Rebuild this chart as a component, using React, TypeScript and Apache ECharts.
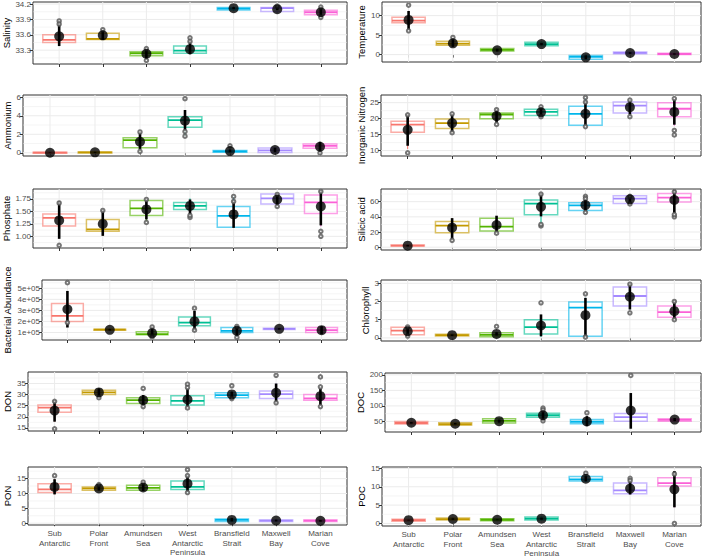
import React, { useEffect, useRef } from "react";
import * as echarts from "echarts";

const categories = ["Sub\nAntarctic", "Polar\nFront", "Amundsen\nSea", "West\nAntarctic\nPeninsula", "Bransfield\nStrait", "Maxwell\nBay", "Marian\nCove"];
const palette = ["#F8766D", "#C49A00", "#53B400", "#00C094", "#00B6EB", "#A58AFF", "#FB61D7"];

// box stats per region: [lower whisker, q1, median, q3, upper whisker]
const salinityBox = [[33.40, 33.45, 33.50, 33.60, 33.80], [33.50, 33.51, 33.52, 33.63, 33.68], [33.15, 33.19, 33.24, 33.27, 33.32], [33.22, 33.24, 33.29, 33.38, 33.48], [34.07, 34.085, 34.11, 34.135, 34.15], [34.03, 34.055, 34.12, 34.135, 34.16], [33.96, 33.99, 34.04, 34.08, 34.13]];
const salinityMean = [33.57, 33.59, 33.23, 33.32, 34.12, 34.10, 34.04];
const salinitySd = [[33.38, 33.86], [33.50, 33.70], [33.14, 33.33], [33.22, 33.48], [34.10, 34.14], [34.08, 34.13], [33.98, 34.11]];
const salinityOut = [[1, 33.87], [1, 33.81], [2, 33.70], [3, 33.33], [3, 33.10], [4, 33.54], [4, 33.47], [6, 34.16], [7, 34.14], [7, 33.94]];
const salinityTicks = [33.3, 33.6, 33.9, 34.2];

const temperatureBox = [[6.3, 8.2, 8.7, 9.6, 11.2], [2.0, 2.4, 2.8, 3.4, 4.0], [0.85, 0.9, 1.2, 1.55, 1.6], [2.2, 2.3, 2.7, 3.2, 3.3], [-1.3, -1.2, -0.6, -0.2, 0.0], [0.1, 0.2, 0.45, 0.65, 0.7], [-0.1, 0.0, 0.15, 0.35, 0.4]];
const temperatureMean = [8.9, 2.9, 1.1, 2.7, -0.7, 0.42, 0.15];
const temperatureSd = [[6.3, 11.2], [2.0, 4.0], [0.8, 1.5], [2.4, 3.0], [-1.2, -0.2], [0.2, 0.6], [0.0, 0.3]];
const temperatureOut = [[1, 12.7], [1, 6.1], [2, 4.4]];
const temperatureTicks = [0, 5, 10];

const ammoniumBox = [[0, 0, 0.02, 0.05, 0.08], [0, 0.01, 0.04, 0.08, 0.12], [0.1, 0.54, 1.37, 1.63, 2.2], [1.8, 2.75, 3.54, 3.9, 4.6], [0.04, 0.06, 0.15, 0.25, 0.4], [0, 0.02, 0.25, 0.52, 0.6], [0.1, 0.5, 0.75, 0.94, 1.1]];
const ammoniumMean = [0.0, 0.05, 1.19, 3.47, 0.18, 0.3, 0.65];
const ammoniumSd = [[-0.02, 0.03], [0.0, 0.1], [0.4, 2.17], [2.35, 4.63], [0.05, 0.35], [0.06, 0.54], [0.11, 1.19]];
const ammoniumOut = [[3, 2.25], [3, 0.15], [4, 5.85], [4, 1.8], [4, 2.3], [5, 0.75], [7, -0.02]];
const ammoniumTicks = [0, 2, 4, 6];

const nitrogenBox = [[10.5, 15.7, 18.1, 19.2, 21.3], [15.5, 16.9, 18.6, 19.9, 21.5], [19.5, 20.0, 21.3, 21.8, 22.8], [20.6, 21.0, 22.1, 22.9, 23.7], [17.5, 17.9, 21.5, 23.9, 26.5], [20.8, 21.8, 24.1, 25.2, 25.8], [17.8, 20.6, 23.1, 25.0, 26.3]];
const nitrogenMean = [16.5, 18.6, 20.8, 22.0, 21.5, 23.6, 22.1];
const nitrogenSd = [[11.5, 21.3], [15.7, 21.4], [18.7, 22.9], [20.8, 23.4], [17.6, 25.6], [21.3, 25.7], [18.1, 26.1]];
const nitrogenOut = [[1, 9.3], [1, 21.2], [2, 21.5], [2, 15.6], [3, 18.2], [3, 22.8], [4, 20.6], [4, 23.7], [5, 26.6], [5, 25.2], [5, 17.5], [6, 20.6], [6, 25.8], [7, 16.3], [7, 14.9], [7, 26.3]];
const nitrogenTicks = [10, 15, 20, 25];

const phosphateBox = [[0.96, 1.21, 1.37, 1.45, 1.67], [1.01, 1.10, 1.14, 1.34, 1.52], [1.30, 1.42, 1.56, 1.72, 1.74], [1.42, 1.54, 1.61, 1.68, 1.76], [1.17, 1.18, 1.41, 1.60, 1.80], [1.60, 1.65, 1.76, 1.85, 1.86], [1.20, 1.46, 1.68, 1.83, 1.90]];
const phosphateMean = [1.32, 1.25, 1.54, 1.61, 1.44, 1.74, 1.60];
const phosphateSd = [[0.95, 1.70], [1.01, 1.53], [1.34, 1.75], [1.44, 1.74], [1.17, 1.72], [1.62, 1.84], [1.22, 1.92]];
const phosphateOut = [[1, 0.82], [1, 1.67], [2, 1.52], [3, 1.28], [3, 1.74], [4, 1.38], [4, 1.42], [5, 1.80], [5, 1.70], [6, 1.84], [6, 1.60], [7, 1.10], [7, 1.00], [7, 1.90]];
const phosphateTicks = [1.0, 1.25, 1.5, 1.75];

const silicicBox = [[1, 1.5, 2, 3, 3.5], [9, 18.9, 28.4, 33.8, 38], [18.5, 21.2, 27, 38.3, 41], [28, 42.8, 57.3, 62.2, 70], [46, 48.3, 55, 58.6, 67], [56, 57.7, 64, 67.7, 69], [45, 59.5, 65.4, 70.8, 74]];
const silicicMean = [2, 25.7, 29.3, 53.2, 55.5, 63.1, 62.2];
const silicicSd = [[1, 3], [9.9, 38.3], [20.3, 41.5], [40.6, 71.3], [46.5, 68.6], [56.8, 69], [45.1, 75.8]];
const silicicOut = [[2, 9], [3, 18.5], [4, 28], [4, 30], [4, 70], [5, 67], [5, 64], [5, 46], [6, 57], [6, 67], [7, 40], [7, 43], [7, 73]];
const silicicTicks = [0, 20, 40, 60];

const bacteriaBox = [[160000, 199000, 250000, 362000, 470000], [115000, 120000, 125000, 130000, 135000], [60000, 79000, 85000, 106000, 150000], [121000, 160000, 190000, 241000, 295000], [60000, 100000, 115000, 145000, 160000], [124000, 126000, 133000, 139000, 141000], [85000, 100000, 121000, 145000, 157000]];
const bacteriaMean = [310000, 124000, 94000, 200000, 115000, 133000, 121000];
const bacteriaSd = [[145000, 476000], [118000, 130000], [60000, 150000], [121000, 295000], [70000, 160000], [126000, 139000], [85000, 157000]];
const bacteriaOut = [[1, 551000], [1, 190000], [3, 150000], [3, 60000], [4, 320000], [4, 121000], [5, 55000], [5, 155000]];
const bacteriaTicks = [100000, 200000, 300000, 400000, 500000];

const chlorophyllBox = [[0.1, 0.18, 0.40, 0.59, 0.64], [0.1, 0.11, 0.15, 0.2, 0.22], [0.05, 0.06, 0.17, 0.28, 0.3], [0.05, 0.22, 0.59, 1.0, 1.2], [0.04, 0.09, 1.66, 1.97, 2.2], [1.56, 1.75, 2.30, 2.80, 2.98], [1.0, 1.14, 1.42, 1.75, 2.06]];
const chlorophyllMean = [0.37, 0.15, 0.22, 0.68, 1.25, 2.26, 1.47];
const chlorophyllSd = [[0.15, 0.64], [0.11, 0.19], [0.13, 0.31], [0.09, 1.29], [0.04, 2.2], [1.56, 2.98], [1.01, 2.06]];
const chlorophyllOut = [[1, 0.1], [1, 0.6], [3, 0.63], [4, 1.93], [5, 2.42], [5, 0.05], [6, 1.38], [6, 2.95], [7, 2.0], [7, 1.0]];
const chlorophyllTicks = [0, 1, 2, 3];

const donBox = [[17.8, 22.0, 24.1, 25.3, 27.5], [29.5, 30.1, 31.0, 32.0, 32.8], [25.3, 26.0, 27.5, 28.6, 29.8], [24.6, 25.3, 27.2, 29.5, 32.8], [28.6, 28.6, 29.8, 30.8, 31.5], [26.8, 28.3, 30.2, 31.6, 35.0], [25.3, 27.5, 28.3, 30.1, 32.8]];
const donMean = [22.8, 31.0, 27.5, 27.8, 30.1, 30.8, 29.3];
const donSd = [[17.8, 27.5], [29.5, 32.8], [25.3, 29.8], [24.6, 32.8], [28.9, 31.3], [26.8, 35.0], [25.3, 32.8]];
const donOut = [[1, 14.6], [1, 27], [2, 28.6], [3, 32.8], [3, 24.6], [4, 34.7], [4, 33.2], [4, 24], [5, 34.0], [5, 28.2], [6, 38.7], [6, 26.3], [7, 38.0], [7, 33.5], [7, 24.6]];
const donTicks = [15, 20, 25, 30, 35];

const docBox = [[41, 41.5, 45, 50, 52], [37, 38.3, 41, 45.7, 47], [44, 44.7, 52, 58.5, 60], [60, 63.8, 70, 76.6, 80], [40, 42.5, 49, 56, 62], [40, 51, 63.8, 75.5, 95], [50, 51, 55, 58.5, 60]];
const docMean = [45.7, 42.5, 51, 70, 50, 85, 56];
const docSd = [[43, 48], [40, 45], [46, 56], [51, 88], [35, 67], [26.6, 141.5], [51, 61]];
const docOut = [[4, 93], [4, 87], [4, 52], [5, 78], [6, 198]];
const docTicks = [50, 100, 150, 200];

const ponBox = [[9.7, 10.3, 11.4, 13.3, 14.8], [10.8, 11.1, 11.7, 12.2, 12.8], [10.8, 11.1, 11.9, 12.8, 13.3], [10.3, 11.3, 12.2, 14.2, 16.1], [0.6, 0.6, 1.1, 1.4, 1.8], [0.5, 0.55, 0.9, 1.1, 1.2], [0.5, 0.55, 0.85, 1.05, 1.1]];
const ponMean = [12.2, 11.7, 12, 13.3, 1.1, 0.9, 0.8];
const ponSd = [[9.7, 14.8], [11.0, 12.4], [10.8, 13.3], [10.6, 16.1], [0.6, 1.8], [0.6, 1.2], [0.5, 1.1]];
const ponOut = [[1, 16.0], [2, 13.0], [3, 13.8], [4, 18.0], [4, 16.0], [4, 10.3]];
const ponTicks = [0, 5, 10, 15];

const pocBox = [[0.6, 0.6, 0.9, 1.15, 1.2], [0.9, 0.95, 1.2, 1.5, 1.6], [0.7, 0.75, 1.0, 1.3, 1.35], [0.9, 0.95, 1.3, 1.75, 1.85], [11.3, 11.6, 12.0, 12.8, 13.6], [7.9, 8.1, 9.0, 11.0, 12.3], [4.4, 10.2, 11.0, 12.5, 14.3]];
const pocMean = [0.9, 1.2, 1.0, 1.3, 12.2, 9.5, 9.3];
const pocSd = [[0.8, 1.0], [1.0, 1.4], [0.9, 1.1], [1.0, 1.6], [11.5, 12.9], [7.9, 12.4], [4.4, 14.3]];
const pocOut = [[5, 13.7], [6, 12.3], [6, 11.7], [7, 0.0], [7, 13.5]];
const pocTicks = [0, 5, 10, 15];

const fmtInt = (v: number) => String(Math.round(v));
const fmtSci = (v: number) => Math.round(v / 100000) + "e+05";

const panels = [
  { title: "Salinity", box: salinityBox, mean: salinityMean, sd: salinitySd, out: salinityOut, ticks: salinityTicks, min: 33.03, max: 34.24, fmt: (v: number) => v.toFixed(1), rect: [33, 2, 347, 64], gap: 21 },
  { title: "Temperature", box: temperatureBox, mean: temperatureMean, sd: temperatureSd, out: temperatureOut, ticks: temperatureTicks, min: -1.9, max: 13.5, fmt: fmtInt, rect: [382, 2, 701, 62], gap: 16 },
  { title: "Ammonium", box: ammoniumBox, mean: ammoniumMean, sd: ammoniumSd, out: ammoniumOut, ticks: ammoniumTicks, min: -0.35, max: 6.25, fmt: fmtInt, rect: [23, 95, 347, 156], gap: 11 },
  { title: "Inorganic Nitrogen", box: nitrogenBox, mean: nitrogenMean, sd: nitrogenSd, out: nitrogenOut, ticks: nitrogenTicks, min: 8.3, max: 27.4, fmt: fmtInt, rect: [381, 95, 701, 156], gap: 15 },
  { title: "Phosphate", box: phosphateBox, mean: phosphateMean, sd: phosphateSd, out: phosphateOut, ticks: phosphateTicks, min: 0.766, max: 1.95, fmt: (v: number) => v.toFixed(2), rect: [33, 189, 347, 248], gap: 21 },
  { title: "Silicic acid", box: silicicBox, mean: silicicMean, sd: silicicSd, out: silicicOut, ticks: silicicTicks, min: -3.7, max: 76.7, fmt: fmtInt, rect: [381, 189, 701, 250], gap: 15 },
  { title: "Bacterial Abundance", box: bacteriaBox, mean: bacteriaMean, sd: bacteriaSd, out: bacteriaOut, ticks: bacteriaTicks, min: 32000, max: 575000, fmt: fmtSci, rect: [42, 280, 347, 340], gap: 30 },
  { title: "Chlorophyll", box: chlorophyllBox, mean: chlorophyllMean, sd: chlorophyllSd, out: chlorophyllOut, ticks: chlorophyllTicks, min: -0.17, max: 3.18, fmt: fmtInt, rect: [381, 280, 701, 341], gap: 10 },
  { title: "DON", box: donBox, mean: donMean, sd: donSd, out: donOut, ticks: donTicks, min: 13.6, max: 40.2, fmt: fmtInt, rect: [28, 372, 347, 431], gap: 16 },
  { title: "DOC", box: docBox, mean: docMean, sd: docSd, out: docOut, ticks: docTicks, min: 16, max: 206, fmt: fmtInt, rect: [385, 373, 701, 432], gap: 19 },
  { title: "PON", box: ponBox, mean: ponMean, sd: ponSd, out: ponOut, ticks: ponTicks, min: -0.6, max: 18.9, fmt: fmtInt, rect: [28, 467, 347, 525], gap: 16 },
  { title: "POC", box: pocBox, mean: pocMean, sd: pocSd, out: pocOut, ticks: pocTicks, min: -0.7, max: 15.4, fmt: fmtInt, rect: [382, 467, 701, 526], gap: 16 },
];

function rgba(hex: string, a: number) {
  const n = parseInt(hex.slice(1), 16);
  return `rgba(${(n >> 16) & 255},${(n >> 8) & 255},${n & 255},${a})`;
}

const FONT = "Liberation Sans, Arial, Helvetica, sans-serif";
const catPos = [1, 2, 3, 4, 5, 6, 7];

export default function App() {
  const ref = useRef<HTMLDivElement>(null);
  useEffect(() => {
    const chart = echarts.init(ref.current!, null, { renderer: "svg" });
    const grid: any[] = [];
    const xAxis: any[] = [];
    const yAxis: any[] = [];
    const series: any[] = [];
    panels.forEach((p, i) => {
      const [l, t, r, b] = p.rect;
      const bottomRow = i >= 10;
      grid.push({ left: l, top: t, width: r - l, height: b - t, show: true, borderColor: "#333333", borderWidth: 1, backgroundColor: "#ffffff", containLabel: false });
      xAxis.push({
        gridIndex: i, type: "value", min: 0.4, max: 7.6,
        axisLine: { show: false },
        axisTick: { show: true, customValues: catPos, length: 3, lineStyle: { color: "#333333", width: 1 } },
        axisLabel: { show: bottomRow, customValues: catPos, formatter: (v: number) => categories[Math.round(v) - 1] || "", fontSize: 8, color: "#4D4D4D", lineHeight: 9.5, margin: 4, fontFamily: FONT },
        splitLine: { show: false },
      });
      yAxis.push({
        gridIndex: i, type: "value", min: p.min, max: p.max,
        name: p.title, nameLocation: "middle", nameGap: p.gap,
        nameTextStyle: { fontSize: 9.5, color: "#000000", fontFamily: FONT },
        axisLine: { show: false },
        axisTick: { show: true, customValues: p.ticks, length: 3, lineStyle: { color: "#333333", width: 1 } },
        axisLabel: { customValues: p.ticks, formatter: p.fmt, fontSize: 8, color: "#4D4D4D", margin: 2, fontFamily: FONT },
        splitLine: { show: false },
      });
      const ticks = p.ticks;
      const step = ticks[1] - ticks[0];
      const minors: number[] = [];
      const cands = [ticks[0] - step / 2, ...ticks.map((tk) => tk + step / 2)];
      cands.forEach((m) => { if (m > p.min && m < p.max) minors.push(m); });
      series.push({
        type: "custom", xAxisIndex: i, yAxisIndex: i, silent: true, clip: true,
        data: [[4, p.min]],
        renderItem: (params: any, api: any) => {
          const cs = params.coordSys;
          const children: any[] = [];
          minors.forEach((m) => {
            const y = api.coord([4, m])[1];
            children.push({ type: "line", shape: { x1: cs.x, y1: y, x2: cs.x + cs.width, y2: y }, style: { stroke: "#EBEBEB", lineWidth: 0.5 } });
          });
          ticks.forEach((tk) => {
            const y = api.coord([4, tk])[1];
            children.push({ type: "line", shape: { x1: cs.x, y1: y, x2: cs.x + cs.width, y2: y }, style: { stroke: "#EBEBEB", lineWidth: 1 } });
          });
          catPos.forEach((c) => {
            const x = api.coord([c, p.min])[0];
            children.push({ type: "line", shape: { x1: x, y1: cs.y, x2: x, y2: cs.y + cs.height }, style: { stroke: "#EBEBEB", lineWidth: 1 } });
          });
          return { type: "group", children };
        },
      });
      series.push({
        type: "custom", xAxisIndex: i, yAxisIndex: i, silent: true, clip: true,
        encode: { x: 0, y: [1, 2, 3, 4, 5] },
        data: p.box.map((bx, k) => [k + 1, ...bx]),
        renderItem: (params: any, api: any) => {
          const x = api.value(0);
          const col = palette[params.dataIndex];
          const w = 0.375;
          const xl = api.coord([x - w, api.value(2)])[0];
          const xr = api.coord([x + w, api.value(2)])[0];
          const xc = api.coord([x, api.value(2)])[0];
          const ylo = api.coord([x, api.value(1)])[1];
          const yq1 = api.coord([x, api.value(2)])[1];
          const ymed = api.coord([x, api.value(3)])[1];
          const yq3 = api.coord([x, api.value(4)])[1];
          const yhi = api.coord([x, api.value(5)])[1];
          return {
            type: "group",
            children: [
              { type: "line", shape: { x1: xc, y1: yhi, x2: xc, y2: yq3 }, style: { stroke: col, lineWidth: 1 } },
              { type: "line", shape: { x1: xc, y1: yq1, x2: xc, y2: ylo }, style: { stroke: col, lineWidth: 1 } },
              { type: "rect", shape: { x: xl, y: yq3, width: xr - xl, height: Math.max(yq1 - yq3, 1) }, style: { fill: "rgba(255,255,255,0.55)", stroke: rgba(col, 0.6), lineWidth: 1.5 } },
              { type: "line", shape: { x1: xl, y1: ymed, x2: xr, y2: ymed }, style: { stroke: col, lineWidth: 1.8 } },
            ],
          };
        },
      });
      series.push({
        type: "custom", xAxisIndex: i, yAxisIndex: i, silent: true, clip: true,
        encode: { x: 0, y: [1, 2] },
        data: p.sd.map((s, k) => [k + 1, s[0], s[1]]),
        renderItem: (params: any, api: any) => {
          const a = api.coord([api.value(0), api.value(1)]);
          const bb = api.coord([api.value(0), api.value(2)]);
          return { type: "line", shape: { x1: a[0], y1: a[1], x2: bb[0], y2: bb[1] }, style: { stroke: "#000000", lineWidth: 2.6 } };
        },
      });
      series.push({
        type: "scatter", xAxisIndex: i, yAxisIndex: i, silent: true,
        data: p.out, symbol: "emptyCircle", symbolSize: 3.5,
        itemStyle: { color: "#555555", borderWidth: 0.7 },
      });
      series.push({
        type: "scatter", xAxisIndex: i, yAxisIndex: i, silent: true,
        data: p.mean.map((m, k) => [k + 1, m]), symbol: "circle", symbolSize: 10,
        itemStyle: { color: "#000000" },
      });
    });
    chart.setOption({ animation: false, textStyle: { fontFamily: FONT }, grid, xAxis, yAxis, series });
    return () => chart.dispose();
  }, []);
  return <div ref={ref} style={{ position: "fixed", left: 0, top: 0, width: 708, height: 559, background: "#ffffff" }} />;
}
